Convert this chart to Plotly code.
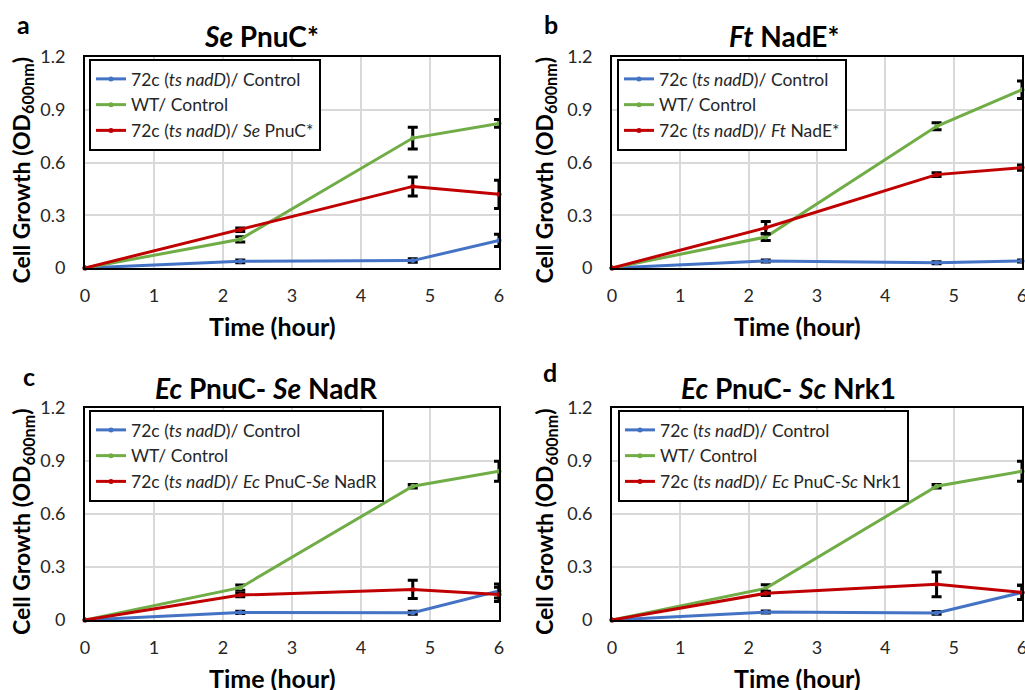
import plotly.graph_objects as go

time_h = [0, 2.25, 4.75, 6]

colors = {"blue": "#4472C4", "green": "#70AD47", "red": "#C00000"}

panel_letters = ["a", "b", "c", "d"]
panel_titles = ["<i>Se</i> PnuC*", "<i>Ft</i> NadE*", "<i>Ec</i> PnuC- <i>Se</i> NadR", "<i>Ec</i> PnuC- <i>Sc</i> Nrk1"]

legend_blue = "72c (<i>ts nadD</i>)/ Control"
legend_green = "WT/ Control"
legend_red = [
    "72c (<i>ts nadD</i>)/ <i>Se</i> PnuC*",
    "72c (<i>ts nadD</i>)/ <i>Ft</i> NadE*",
    "72c (<i>ts nadD</i>)/ <i>Ec</i> PnuC-<i>Se</i> NadR",
    "72c (<i>ts nadD</i>)/ <i>Ec</i> PnuC-<i>Sc</i> Nrk1",
]

# Panel a
a_blue = [0, 0.038, 0.042, 0.157]
a_blue_err = [0, 0.008, 0.01, 0.035]
a_green = [0, 0.163, 0.739, 0.822]
a_green_err = [0, 0.015, 0.062, 0.022]
a_red = [0, 0.218, 0.464, 0.419]
a_red_err = [0, 0.01, 0.054, 0.08]

# Panel b
b_blue = [0, 0.04, 0.03, 0.04]
b_blue_err = [0, 0.006, 0.006, 0.006]
b_green = [0, 0.176, 0.806, 1.014]
b_green_err = [0, 0.02, 0.02, 0.05]
b_red = [0, 0.229, 0.531, 0.571]
b_red_err = [0, 0.036, 0.01, 0.015]

# Panel c
c_blue = [0, 0.043, 0.041, 0.164]
c_blue_err = [0, 0.006, 0.008, 0.04]
c_green = [0, 0.183, 0.757, 0.842]
c_green_err = [0, 0.015, 0.01, 0.057]
c_red = [0, 0.141, 0.173, 0.145]
c_red_err = [0, 0.01, 0.052, 0.04]

# Panel d
d_blue = [0, 0.045, 0.04, 0.156]
d_blue_err = [0, 0.006, 0.008, 0.04]
d_green = [0, 0.179, 0.757, 0.842]
d_green_err = [0, 0.02, 0.01, 0.057]
d_red = [0, 0.151, 0.202, 0.156]
d_red_err = [0, 0.012, 0.07, 0.04]

x_tick_vals = [0, 1, 2, 3, 4, 5, 6]
x_tick_text = ["0", "1", "2", "3", "4", "5", "6"]
y_tick_vals = [0, 0.3, 0.6, 0.9, 1.2]
y_tick_text = ["0", "0.3", "0.6", "0.9", "1.2"]

panels = [
    (a_blue, a_blue_err, a_green, a_green_err, a_red, a_red_err),
    (b_blue, b_blue_err, b_green, b_green_err, b_red, b_red_err),
    (c_blue, c_blue_err, c_green, c_green_err, c_red, c_red_err),
    (d_blue, d_blue_err, d_green, d_green_err, d_red, d_red_err),
]

W, H = 1025, 690
FONT = "Lato"
boxes = [(85, 499, 57, 268), (612, 1022, 57, 268), (85, 499, 408, 620), (612, 1022, 408, 620)]
legend_pos = [(89, 59), (617, 59), (89, 410), (618, 410)]
letter_pos = [(23, 24), (551, 24), (29, 376), (550, 372)]
title_pos = [(261, 36), (784, 36), (266, 388), (788, 388)]
xtitle_pos = [(272, 326), (797, 326), (272, 678), (797, 678)]
ytitle_x = [22, 545, 22, 545]

fig = go.Figure()
layout = dict(
    width=W, height=H, margin=dict(l=0, r=0, t=0, b=0, pad=0, autoexpand=False),
    paper_bgcolor="white", plot_bgcolor="white",
    font=dict(family=FONT, color="#262626"),
    showlegend=True, annotations=[],
)

def px_ann(text, x, y, size, angle=0):
    return dict(text=text, x=x / W, y=1 - y / H, xref="paper", yref="paper",
                xanchor="center", yanchor="middle", textangle=angle,
                showarrow=False, font=dict(size=size, family=FONT, color="black"))

for i, (bl, ble, gr, gre, rd, rde) in enumerate(panels):
    n = "" if i == 0 else str(i + 1)
    xa, ya = "x" + n, "y" + n
    lg = "legend" + n
    for vals, errs, key, name in [(bl, ble, "blue", legend_blue), (gr, gre, "green", legend_green), (rd, rde, "red", legend_red[i])]:
        fig.add_trace(go.Scatter(
            x=time_h, y=vals, name=name, mode="lines+markers",
            line=dict(color=colors[key], width=3),
            marker=dict(color=colors[key], size=5),
            error_y=dict(type="data", array=errs, color="black", thickness=3, width=5),
            xaxis=xa, yaxis=ya, legend=lg, cliponaxis=False,
        ))
    l, r, t, b = boxes[i]
    common = dict(
        showgrid=True, gridcolor="#d9d9d9", gridwidth=1.5,
        showline=True, linecolor="black", linewidth=2, mirror=True,
        ticks="", zeroline=False, automargin=False, ticklabeloverflow="allow",
        tickfont=dict(size=18, family=FONT, color="#262626"),
    )
    layout["xaxis" + n] = dict(
        domain=[l / W, r / W], range=[0, 6], anchor=ya,
        tickvals=x_tick_vals, ticktext=x_tick_text, ticklabelstandoff=10, **common,
    )
    layout["yaxis" + n] = dict(
        domain=[1 - b / H, 1 - t / H], range=[0, 1.2], anchor=xa,
        tickvals=y_tick_vals, ticktext=y_tick_text, ticklabelstandoff=14, **common,
    )
    lx, ly = legend_pos[i]
    layout[lg] = dict(
        x=lx / W, y=1 - ly / H, xanchor="left", yanchor="top",
        bgcolor="white", bordercolor="black", borderwidth=2,
        font=dict(size=17.5, family=FONT, color="#262626"),
        tracegroupgap=0, itemwidth=30,
    )
    ann = layout["annotations"]
    ann.append(px_ann("<b>" + panel_letters[i] + "</b>", *letter_pos[i], 25))
    ann.append(px_ann("<b>" + panel_titles[i] + "</b>", *title_pos[i], 28))
    ann.append(px_ann("<b>Time (hour)</b>", *xtitle_pos[i], 25))
    ann.append(px_ann("<b>Cell Growth (OD<sub>600nm</sub>)</b>", ytitle_x[i], (t + b) / 2 + 8, 23, -90))

fig.update_layout(**layout)
post = (
    "document.body.style.margin='0';document.body.style.overflow='hidden';"
    "var gd=document.getElementById('{plot_id}');"
    "document.fonts.ready.then(function(){Plotly.relayout(gd,{'legend.x':gd.layout.legend.x});});"
)
fig.write_html("out.html", post_script=post, config={"displayModeBar": False})
